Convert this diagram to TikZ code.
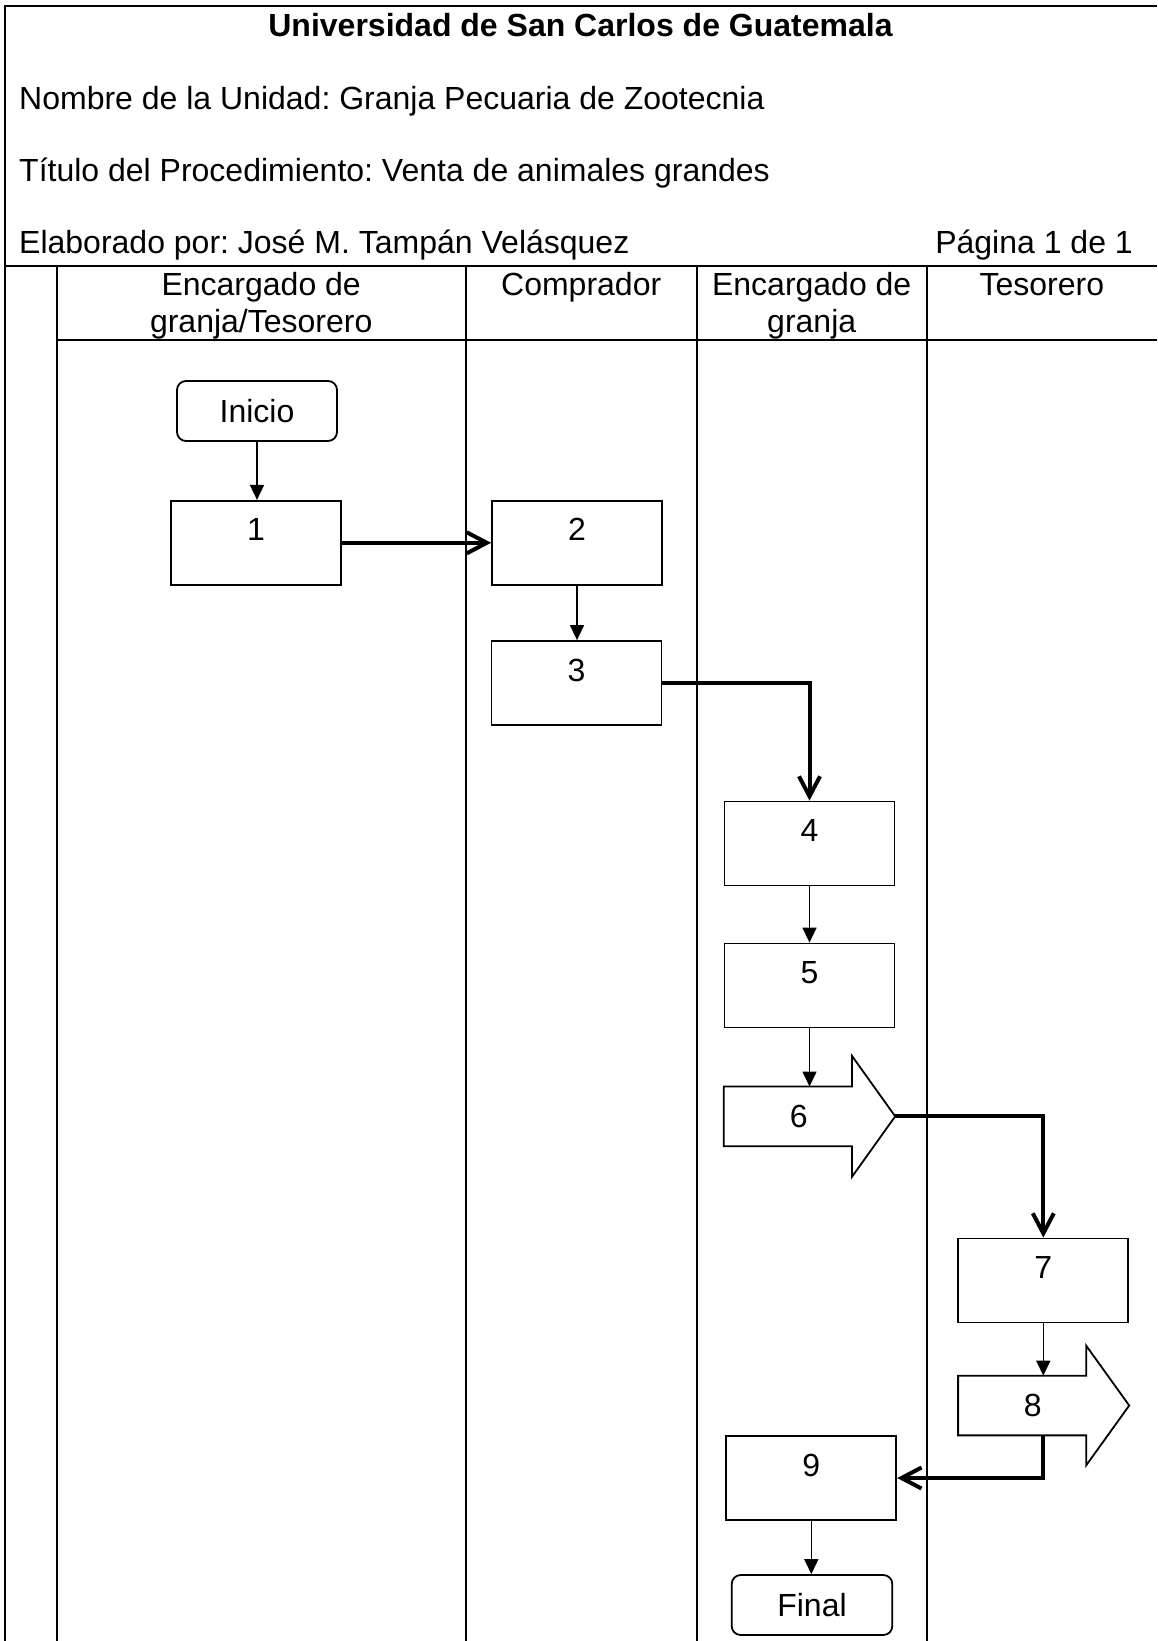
\documentclass[tikz,border=0pt]{standalone}
\usepackage{fontspec}
\setmainfont{Liberation Sans}
\usetikzlibrary{arrows.meta}
\frenchspacing
\begin{document}
\begin{tikzpicture}[x=1pt,y=-1pt, font=\fontsize{32}{36.8}\selectfont,
  laneline/.style={line width=2pt},
  stepbox/.style={draw, rectangle, line width=1.8pt, minimum width=170pt, inner sep=0pt, text height=40pt, text depth=44pt},
  termbox/.style={draw, rectangle, rounded corners=9pt, line width=1.8pt, minimum width=160pt, minimum height=60pt, inner sep=0pt},
  arrowbody/.style={inner sep=0pt, minimum width=127.7pt, minimum height=59.3pt},
  arrowline/.style={line width=1.8pt, line join=miter},
  flow/.style={line width=1.6pt, -{Triangle[length=15pt,width=14pt]}},
  handoff/.style={line width=4pt, -{Straight Barb[length=20pt,width=21pt]}},
  hdr/.style={inner sep=0pt}
]
\useasboundingbox (0,0) rectangle (1157,1641);
% frame and lanes
\draw[laneline] (5,1641) -- (5,5.7) -- (1157,5.7);
\draw[laneline] (5,265.7) -- (1157,265.7);
\draw[laneline] (56.7,340) -- (1157,340);
\foreach \x in {56.7,465.7,696.7,926.7} \draw[laneline] (\x,265.7) -- (\x,1641);
% header texts
\node[hdr, anchor=base, font=\fontsize{32}{36.8}\selectfont\bfseries] (title) at (580.5,36) {Universidad de San Carlos de Guatemala};
\node[hdr, anchor=base west] (unidad) at (19,109) {Nombre de la Unidad: Granja Pecuaria de Zootecnia};
\node[hdr, anchor=base west] (proc) at (19,181) {Título del Procedimiento: Venta de animales grandes};
\node[hdr, anchor=base west] (autor) at (19,253) {Elaborado por: José M. Tampán Velásquez};
\node[hdr, anchor=base east] (pagina) at (1133,253) {Página 1 de 1};
% lane headers
\node[hdr, anchor=base, align=center] (h1) at (261.2,332) {Encargado de\\granja/Tesorero};
\node[hdr, anchor=base] (h2) at (581.2,295) {Comprador};
\node[hdr, anchor=base, align=center] (h3) at (811.7,332) {Encargado de\\granja};
\node[hdr, anchor=base] (h4) at (1041.8,295) {Tesorero};
% steps
\node[termbox] (ini) at (257,411) {Inicio};
\node[stepbox] (n1) at (256,542.8) {1};
\node[stepbox] (n2) at (577,542.8) {2};
\node[stepbox] (n3) at (576.5,683) {3};
\node[stepbox] (n4) at (809.5,843.5) {4};
\node[stepbox] (n5) at (809.5,985.5) {5};
\node[arrowbody] (n6) at (787.85,1116.35) {};
\node (t6) at ([xshift=11pt]n6.center) {6};
\coordinate (n6tip) at ([xshift=43.3pt]n6.east);
\draw[arrowline] (n6.north west) -- (n6.north east) -- ([yshift=30.7pt]n6.north east) -- (n6tip) -- ([yshift=-30.7pt]n6.south east) -- (n6.south east) -- (n6.south west) -- cycle;
\node[stepbox] (n7) at (1043.3,1280.5) {7};
\node[arrowbody] (n8) at (1022.15,1405.5) {};
\node (t8) at ([xshift=10.5pt]n8.center) {8};
\coordinate (n8tip) at ([xshift=43pt]n8.east);
\draw[arrowline] (n8.north west) -- (n8.north east) -- ([yshift=30pt]n8.north east) -- (n8tip) -- ([yshift=-30pt]n8.south east) -- (n8.south east) -- (n8.south west) -- cycle;
\node[stepbox] (n9) at (811.3,1478) {9};
\node[termbox, minimum width=160.6pt] (fin) at (812,1605) {Final};
% connectors
\draw[flow] (ini.south) -- (ini.south |- n1.north);
\draw[handoff] (n1.east) -- (n2.west);
\draw[flow] (n2.south) -- (n2.south |- n3.north);
\draw[handoff] (n3.east) -| (n4.north);
\draw[flow] (n4.south) -- (n5.north);
\draw[flow] (n5.south) -- (n5.south |- n6.north);
\draw[handoff] (n6tip) -| (n7.north);
\draw[flow] (n7.south) -- (n7.south |- n8.north);
\draw[handoff] (n7.south |- n8.south) |- (n9.east);
\draw[flow] (n9.south) -- (n9.south |- fin.north);
\end{tikzpicture}
\end{document}
